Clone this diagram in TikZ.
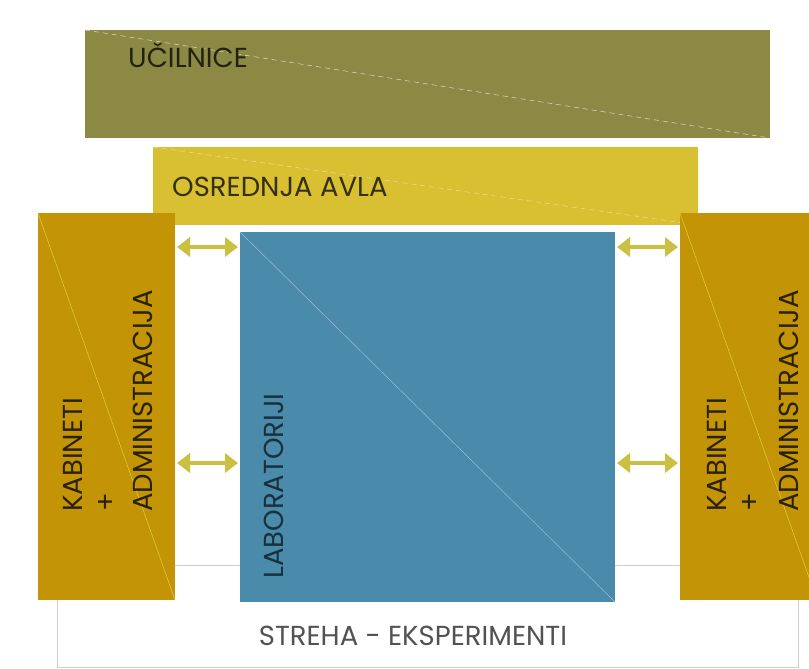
\documentclass[tikz,border=0pt]{standalone}
\usepackage{fontspec}
\setmainfont{Poppins}
\usetikzlibrary{arrows.meta}
\definecolor{olive}{HTML}{8C8945}
\definecolor{avla}{HTML}{D8C032}
\definecolor{kab}{HTML}{C29406}
\definecolor{lab}{HTML}{4A8AAA}
\definecolor{arr}{HTML}{CBC042}
\definecolor{frame}{HTML}{CCCCCC}
\tikzset{
  block/.style={rectangle, inner sep=0pt, outer sep=0pt},
  lbl/.style={inner sep=0pt, font=\fontsize{27.5}{28}\selectfont},
  vlbl/.style={inner sep=0pt, rotate=90, anchor=west, font=\fontsize{27.5}{28}\selectfont},
  link/.style={arr, line width=4.5pt, {Triangle[width=19pt,length=13pt]}-{Triangle[width=19pt,length=13pt]}},
  diag/.style={line width=0.5pt}
}
\begin{document}
\begin{tikzpicture}[x=1pt,y=-1pt]
\useasboundingbox (0,0) rectangle (809,669);
\fill[white] (0,0) rectangle (809,669);
\begin{scope}
\clip (0,0) rectangle (809,669);
% roof
\node[block, draw=frame, line width=1pt, fill=white, minimum width=741pt, minimum height=102pt] (streha) at (427.5,616) {};
\node[lbl, text=black!68] (strehat) at (413,636) {STREHA - EKSPERIMENTI};
% classrooms
\node[block, fill=olive, minimum width=685pt, minimum height=108pt] (ucil) at (427.5,84) {};
\draw[diag, white!70!olive, dashed, dash pattern=on 5pt off 4pt] (ucil.north west) -- (ucil.south east);
% hall
\node[block, fill=avla, minimum width=545pt, minimum height=78pt] (avla) at (425.5,186) {};
\draw[diag, white!50!avla, dashed, dash pattern=on 5pt off 4pt] (avla.north west) -- (avla.south east);
% cabinets
\node[block, fill=kab, minimum width=137pt, minimum height=387pt] (kabL) at (106.5,406.5) {};
\draw[diag, kab!60!yellow!75!white] (kabL.north west) -- (kabL.south east);
\node[block, fill=kab, minimum width=137pt, minimum height=387pt] (kabR) at (748.5,406.5) {};
\draw[diag, kab!60!yellow!75!white] (kabR.north west) -- (kabR.south east);
% laboratories
\node[block, fill=lab, minimum width=375pt, minimum height=370pt] (lab) at (427.5,417) {};
\draw[diag, lab!55!white] (lab.north west) -- (lab.south east);
\end{scope}
% texts
\node[lbl, anchor=west, text=olive!25!black] (ucilt) at (128,55) {UČILNICE};
\node[lbl, anchor=west, text=avla!25!black] (avlat) at (172,187) {OSREDNJA AVLA};
\node[vlbl, text=kab!22!black] (kabL1) at (73,512) {KABINETI};
\node[vlbl, text=kab!22!black] (kabL2) at (107,512) {+};
\node[vlbl, text=kab!22!black] (kabL3) at (143,512) {ADMINISTRACIJA};
\node[vlbl, text=kab!22!black] (kabR1) at (717,512) {KABINETI};
\node[vlbl, text=kab!22!black] (kabR2) at (751,512) {+};
\node[vlbl, text=kab!22!black] (kabR3) at (789,512) {ADMINISTRACIJA};
\node[vlbl, text=lab!35!black] (labt) at (274,579) {LABORATORIJI};
% connectors
\draw[link, shorten <=2pt, shorten >=2pt] (kabL.east |- 0,247) -- (lab.west |- 0,247);
\draw[link, shorten <=2pt, shorten >=2pt] (kabL.east |- 0,463) -- (lab.west |- 0,463);
\draw[link, shorten <=2pt, shorten >=2pt] (lab.east |- 0,247) -- (kabR.west |- 0,247);
\draw[link, shorten <=2pt, shorten >=2pt] (lab.east |- 0,463) -- (kabR.west |- 0,463);
\end{tikzpicture}
\end{document}
